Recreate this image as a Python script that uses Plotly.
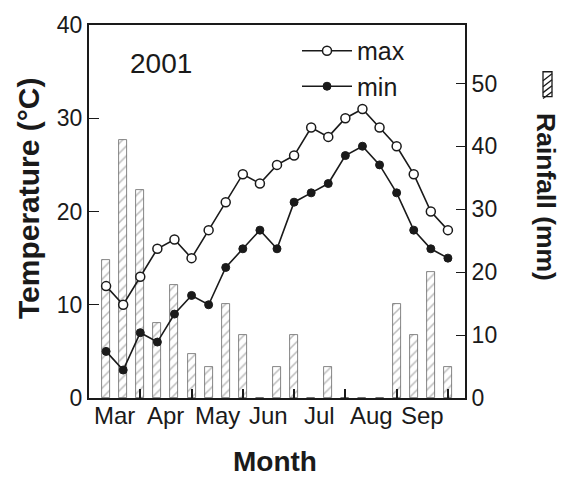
import plotly.graph_objects as go

# Dekad index (three 10-day periods per month, starting early March)
dekad = list(range(21))
t_max = [12, 10, 13, 16, 17, 15, 18, 21, 24, 23, 25, 26, 29, 28, 30, 31, 29, 27, 24, 20, 18]
t_min = [5, 3, 7, 6, 9, 11, 10, 14, 16, 18, 16, 21, 22, 23, 26, 27, 25, 22, 18, 16, 15]
rain = [22, 41, 33, 12, 18, 7, 5, 15, 10, 0, 5, 10, 0, 5, 0, 0, 0, 15, 10, 20, 5]

months = ["Mar", "Apr", "May", "Jun", "Jul", "Aug", "Sep"]
month_centers = [0.5 + 3 * k for k in range(len(months))]
month_bounds = [2 + 3 * k for k in range(len(months))]

temp_ticks = [0, 10, 20, 30, 40]
rain_ticks = [0, 10, 20, 30, 40, 50]

FONT = "Liberation Sans, Arial, sans-serif"
INK = "#1a1a1a"

fig = go.Figure()

# Rainfall bars (drawn on the base axis so the temperature lines sit on top)
fig.add_trace(go.Bar(
    x=dekad, y=rain, width=0.47, yaxis="y", showlegend=False,
    marker=dict(color="white",
                line=dict(color="#666666", width=0.8),
                pattern=dict(shape="/", fgcolor="#7a7a7a", bgcolor="white",
                             size=7, solidity=0.22)),
))

fig.add_trace(go.Scatter(
    x=dekad, y=t_max, name="max", yaxis="y2", mode="lines+markers",
    legendgroup="a",
    line=dict(color=INK, width=1.6),
    marker=dict(symbol="circle", size=9, color="white",
                line=dict(color=INK, width=1.5)),
))
fig.add_trace(go.Scatter(
    x=dekad, y=t_min, name="min", yaxis="y2", mode="lines+markers",
    legendgroup="b",
    line=dict(color=INK, width=1.6),
    marker=dict(symbol="circle", size=8, color=INK,
                line=dict(color=INK, width=1)),
))

L, R, T, B = 89, 100, 23, 80
W, H = 565, 478
PW, PH = W - L - R, H - T - B


def px(x):
    return (x - L) / PW


def py(y):
    return (H - B - y) / PH


def label(text, x, y, size, angle=0):
    return dict(text=text, x=px(x), y=py(y), xref="paper", yref="paper",
                xanchor="center", yanchor="middle", showarrow=False,
                textangle=angle, font=dict(family=FONT, size=size, color=INK))


annotations = [
    label("2001", 161, 62, 28),
    label("<b>Temperature (°C)</b>", 28, 198, 30, -90),
    label("<b>Month</b>", 275, 462, 28),
    label("<b>Rainfall (mm)</b>", 546, 196, 26.5, 90),
]
# month names centred between the month-boundary ticks
for m, c in zip(months, month_centers):
    annotations.append(dict(text=m, x=c, y=py(416), xref="x", yref="paper",
                            xanchor="center", yanchor="middle",
                            showarrow=False,
                            font=dict(family=FONT, size=24, color=INK)))

# Hatched key box next to the rainfall title
x0, x1, y0, y1 = 543, 552, 70, 95
key_path = f"M{px(x0)},{py(y0)} L{px(x1)},{py(y0)} L{px(x1)},{py(y1)} L{px(x0)},{py(y1)} Z"
hatch = ""
for k in range(4):
    ya = y0 + 2 + k * 6
    hatch += f" M{px(x0)},{py(ya + 7)} L{px(x1)},{py(ya)}"
shapes = [
    dict(type="path", path=key_path, xref="paper", yref="paper",
         line=dict(color=INK, width=1.3), fillcolor="white"),
    dict(type="path", path=hatch.strip(), xref="paper", yref="paper",
         line=dict(color=INK, width=1.3)),
]

fig.update_layout(
    width=W, height=H,
    margin=dict(l=L, r=R, t=T, b=B),
    paper_bgcolor="white", plot_bgcolor="white",
    font=dict(family=FONT, color=INK),
    bargap=0,
    xaxis=dict(
        range=[-1, 21], tickmode="array", tickvals=month_bounds,
        showticklabels=False, ticks="inside", ticklen=9, tickwidth=1.5,
        tickcolor=INK, showgrid=False, zeroline=False,
        showline=True, linecolor=INK, linewidth=2, mirror=True,
    ),
    yaxis=dict(
        side="right", range=[0, 59.3], tickmode="array", tickvals=rain_ticks,
        ticks="inside", ticklen=9, tickwidth=1.3, tickcolor=INK,
        showgrid=False, zeroline=False, showline=True, linecolor=INK,
        linewidth=2, tickfont=dict(family=FONT, size=23, color=INK),
    ),
    yaxis2=dict(
        overlaying="y", side="left", range=[0, 40], tickmode="array",
        tickvals=temp_ticks, ticks="inside", ticklen=10, tickwidth=1.3,
        tickcolor=INK, showgrid=False, zeroline=False, showline=True,
        linecolor=INK, linewidth=2,
        tickfont=dict(family=FONT, size=23, color=INK),
    ),
    legend=dict(
        x=px(297), y=py(26), xanchor="left", yanchor="top",
        bgcolor="rgba(0,0,0,0)", font=dict(family=FONT, size=25, color=INK),
        tracegroupgap=0, itemwidth=50,
    ),
    annotations=annotations,
    shapes=shapes,
)

fig.write_html("out.html")
